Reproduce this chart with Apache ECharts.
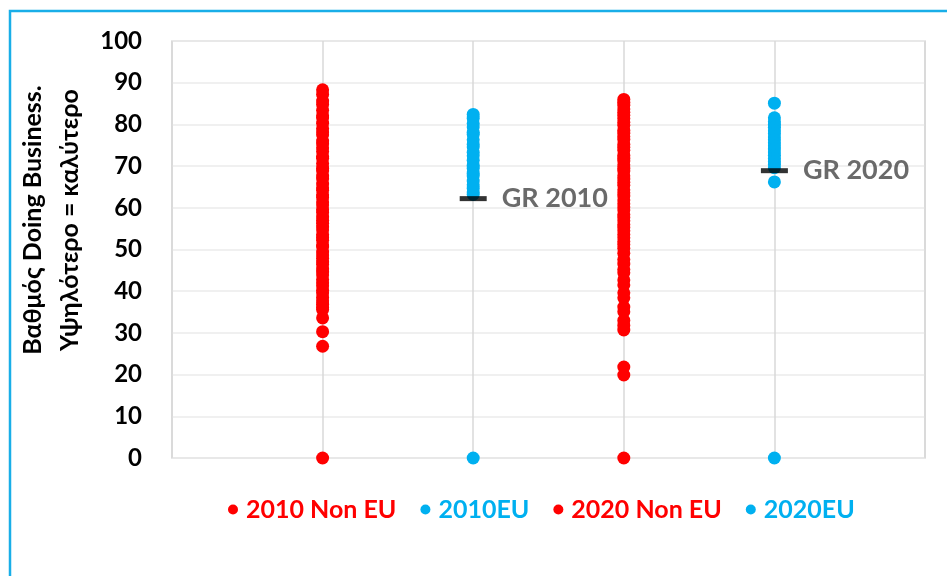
<!DOCTYPE html>
<html>
<head>
<meta charset="utf-8">
<script src="https://cdn.jsdelivr.net/npm/echarts@6/dist/echarts.min.js"></script>
<style>html,body{margin:0;padding:0;background:#fff;}#c{width:947px;height:576px;}</style>
</head>
<body>
<div id="c"></div>
<script>
var seriesNames = ['2010 Non EU', '2010EU', '2020 Non EU', '2020EU'];
var columnX = [1, 2, 3, 4];
var yTicks = [0, 10, 20, 30, 40, 50, 60, 70, 80, 90, 100];

var nonEU2010 = [88.3, 87.2, 85.6, 84.8, 83.4, 82.1, 81.6, 80.3, 79.0, 78.2, 77.5, 76.0, 75.3, 74.4, 73.5,
  72.3, 71.9, 70.6, 69.5, 68.8, 67.6, 66.9, 65.7, 64.8, 64.2, 63.1, 62.5, 61.4, 60.7, 59.6, 58.9, 57.8,
  57.0, 56.3, 55.4, 54.7, 53.6, 52.9, 52.2, 51.1, 50.6, 49.4, 48.7, 47.9, 47.0, 46.4, 45.3, 44.6, 43.9,
  42.8, 42.0, 41.3, 40.2, 39.6, 38.5, 37.7, 36.9, 36.1, 35.6, 33.6, 30.3, 26.8, 0];
var eu2010 = [82.4, 81.5, 80.2, 79.4, 78.1, 77.6, 76.3, 75.2, 74.6, 73.3, 72.5, 71.4, 70.2, 69.5, 68.3,
  67.6, 66.4, 65.5, 64.7, 63.8, 63.2, 0];
var nonEU2020 = [86.0, 85.3, 84.6, 83.7, 82.9, 82.2, 81.4, 80.5, 79.8, 78.6, 77.9, 77.1, 76.4, 75.2, 74.5,
  73.8, 72.6, 71.9, 71.2, 70.3, 69.5, 68.8, 67.7, 66.9, 66.1, 65.4, 64.3, 63.6, 62.8, 61.9, 61.0, 60.2,
  59.5, 58.4, 57.7, 56.9, 56.0, 55.3, 54.5, 53.6, 52.8, 51.9, 51.2, 50.3, 49.1, 47.6, 46.5, 45.2, 44.4,
  42.7, 41.5, 39.6, 38.4, 36.2, 35.1, 33.0, 31.8, 30.7, 21.8, 19.9, 0];
var eu2020 = [85.1, 81.6, 80.7, 80.0, 79.3, 78.5, 77.8, 77.0, 76.3, 75.6, 74.9, 74.1, 73.4, 72.6, 71.8,
  71.1, 70.4, 69.6, 66.2, 0];
var grLabels = ['GR 2010', 'GR 2020'];
var grX = [2, 4];
var grValues = [62.2, 68.9];

var colors = ['#FF0000', '#00B0F0', '#FF0000', '#00B0F0'];
var allValues = [nonEU2010, eu2010, nonEU2020, eu2020];

var series = allValues.map(function (vals, i) {
  return {
    name: seriesNames[i],
    type: 'scatter',
    symbol: 'circle',
    symbolSize: 13,
    itemStyle: { color: colors[i], opacity: 1 },
    data: vals.map(function (v) { return [columnX[i], v]; }),
    z: 2
  };
});
series.push({
  name: 'GR',
  type: 'scatter',
  symbol: 'rect',
  symbolSize: [27, 5],
  itemStyle: { color: '#000000' },
  z: 5,
  data: grValues.map(function (v, i) { return { value: [grX[i], v], label: { formatter: grLabels[i] } }; }),
  label: {
    show: true,
    position: 'right',
    distance: 15,
    fontFamily: 'Lato',
    fontWeight: 'bold',
    fontSize: 27,
    color: '#454545'
  }
});

var chart = echarts.init(document.getElementById('c'));
chart.setOption({
  animation: false,
  backgroundColor: '#ffffff',
  grid: { left: 172, right: 22, top: 41, bottom: 118, show: true, borderColor: '#d4d4d4', borderWidth: 1.5, backgroundColor: 'transparent' },
  xAxis: {
    type: 'value', min: 0, max: 5, interval: 1,
    axisLabel: { show: false }, axisTick: { show: false }, axisLine: { show: false },
    splitLine: { show: true, lineStyle: { color: '#d9d9d9', width: 1.5 } }
  },
  yAxis: {
    type: 'value', min: yTicks[0], max: yTicks[yTicks.length - 1], interval: 10,
    axisLine: { show: false }, axisTick: { show: false },
    axisLabel: { fontFamily: 'Lato', fontWeight: 'bold', fontSize: 24, color: '#000', margin: 30 },
    splitLine: { show: true, lineStyle: { color: '#ebebeb', width: 1.5 } }
  },
  legend: {
    top: 492, left: 223,
    icon: 'circle', itemWidth: 10, itemHeight: 10, itemGap: 24,
    data: seriesNames.map(function (n, i) {
      return { name: n, textStyle: { color: colors[i] } };
    }),
    textStyle: { fontFamily: 'Lato', fontWeight: 'bold', fontSize: 25, padding: [0, 0, 0, 3] }
  },
  graphic: [
    { type: 'rect', shape: { x: 10, y: 11, width: 960, height: 620 }, style: { fill: 'none', stroke: '#19AEE8', lineWidth: 2.5 }, silent: true },
    { type: 'text', x: 51, y: 220, rotation: Math.PI / 2,
      style: { text: 'Βαθμός Doing Business.\nΥψηλότερο = καλύτερο', fontFamily: 'Lato', fontWeight: 'bold', fontSize: 25, lineHeight: 37, fill: '#000', align: 'center', verticalAlign: 'middle' } }
  ],
  series: series
});
</script>
</body>
</html>
